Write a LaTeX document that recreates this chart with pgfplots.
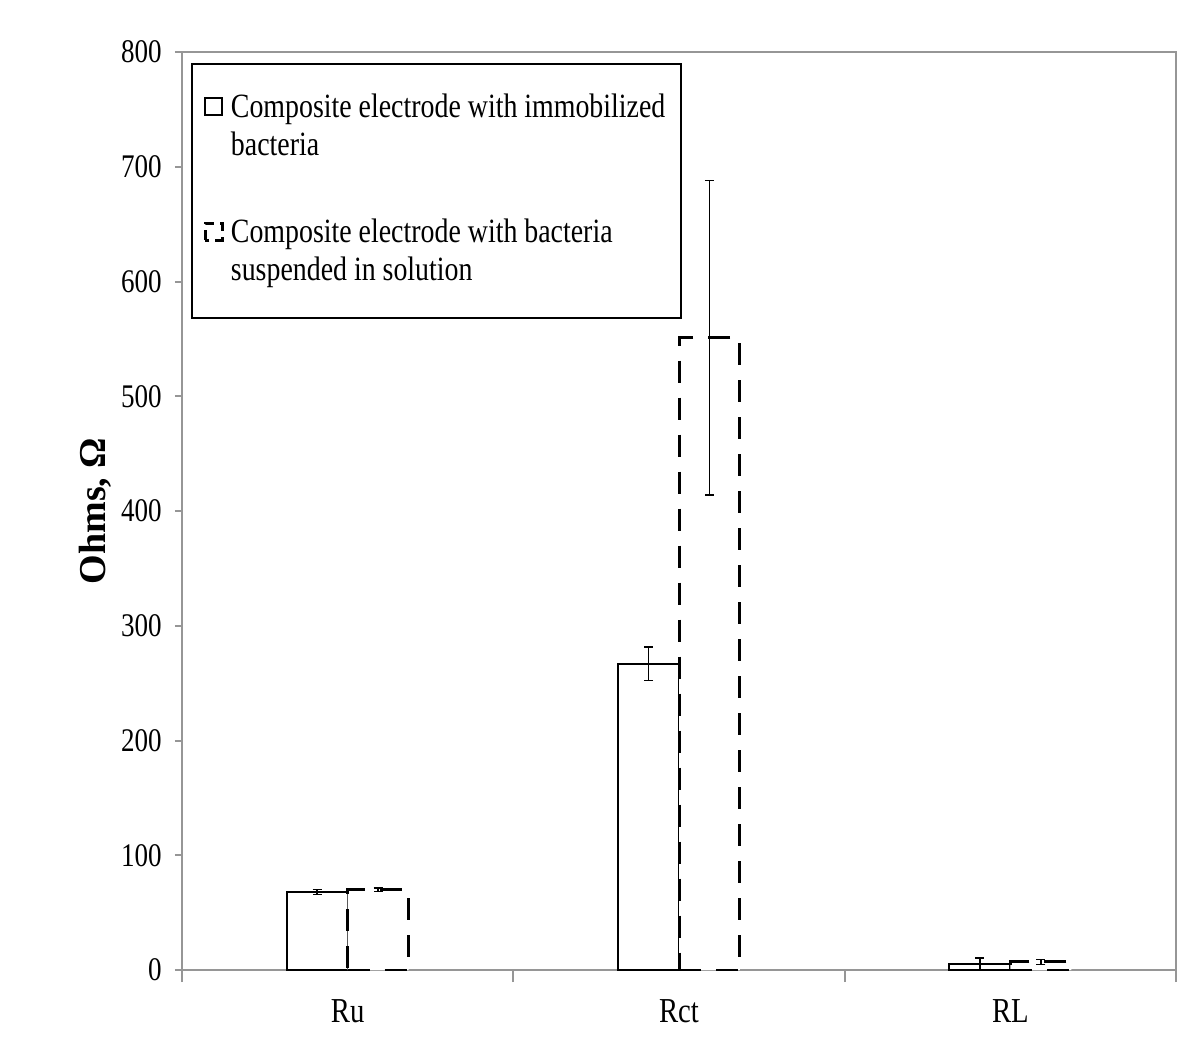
\documentclass[border=0pt]{standalone}
\usepackage{fontspec}
\setmainfont{Liberation Serif}[FakeStretch=0.82]
\newfontfamily\ylabfont{Liberation Serif}
\usepackage{pgfplots}
\pgfplotsset{compat=1.18}
\definecolor{axgray}{RGB}{150,150,150}
\begin{document}
\begin{tikzpicture}
\begin{axis}[
  scale only axis,
  width=497pt, height=459pt,
  xmin=-0.5, xmax=2.5,
  ymin=0, ymax=800,
  ytick=\empty,
  extra y ticks={0,100,...,800},
  extra y tick style={major tick length=3.5pt, tick align=outside, ytick pos=left, tick style={draw=axgray, line width=1pt}},
  xtick={-0.5,0.5,1.5,2.5},
  xticklabels={},
  extra x ticks={0,1,2},
  extra x tick labels={Ru,Rct,RL},
  extra x tick style={major tick length=0pt, tick style={draw=none}},
  ytick pos=left,
  xtick pos=bottom,
  tick align=outside,
  major tick length=6pt,
  tick style={draw=axgray, line width=1pt},
  axis line style={draw=axgray, line width=1pt},
  /pgf/number format/assume math mode=true,
  yticklabel style={font=\fontsize{16.5}{16.5}\selectfont, inner sep=0pt, xshift=-6.5pt},
  xticklabel style={font=\fontsize{17.5}{17.5}\selectfont, inner sep=0pt, anchor=north, yshift=-14.5pt},
  ylabel={\ylabfont\bfseries Ohms, Ω},
  every axis y label/.style={at={(axis description cs:-0.0875,0.5)}, rotate=90, anchor=center, font=\fontsize{19}{19}\selectfont},
  ybar,
  bar width=0.184,
  legend style={at={(0.009,0.988)}, anchor=north west, draw=black, line width=1pt,
    inner xsep=6pt, inner ysep=13.25pt, row sep=24.5pt, column sep=3.5pt,
    nodes={inner sep=0pt, anchor=base west, text depth=24.7pt},
    font=\fontsize{17}{19}\selectfont},
  legend image code/.code={\draw[#1] (0pt,1pt) rectangle (8.5pt,9.5pt);},
  error bars/y dir=both,
  error bars/y explicit,
  error bars/error bar style={solid, black, line width=0.7pt},
  error bars/error mark options={rotate=90, mark size=2.25pt, solid, black, line width=0.7pt},
]
\addplot[draw=black, fill=white, line width=1pt, bar shift=-0.092]
  coordinates {(0,68) +- (0,2) (1,267) +- (0,14.5) (2,5) +- (0,5.5)};
\addlegendentry{\makebox[219pt][l]{\begin{tabular}[t]{@{}l@{}}Composite electrode with immobilized\\bacteria\end{tabular}}}
\addplot[draw=black, fill=white, line width=1.5pt, dash pattern=on 11pt off 7.5pt, bar shift=0.092,
  legend image post style={dash pattern=on 5pt off 3pt}]
  coordinates {(0,70) +- (0,1.5) (1,551) +- (0,137) (2,7) +- (0,2)};
\addlegendentry{\makebox[219pt][l]{\begin{tabular}[t]{@{}l@{}}Composite electrode with bacteria\\suspended in solution\end{tabular}}}
\coordinate (bl) at (rel axis cs:0,0);
\coordinate (tr) at (rel axis cs:1,1);
\end{axis}
\pgfresetboundingbox
\path ([shift={(-91pt,-40pt)}]bl) rectangle ([shift={(11.5pt,26pt)}]tr);
\end{tikzpicture}
\end{document}
